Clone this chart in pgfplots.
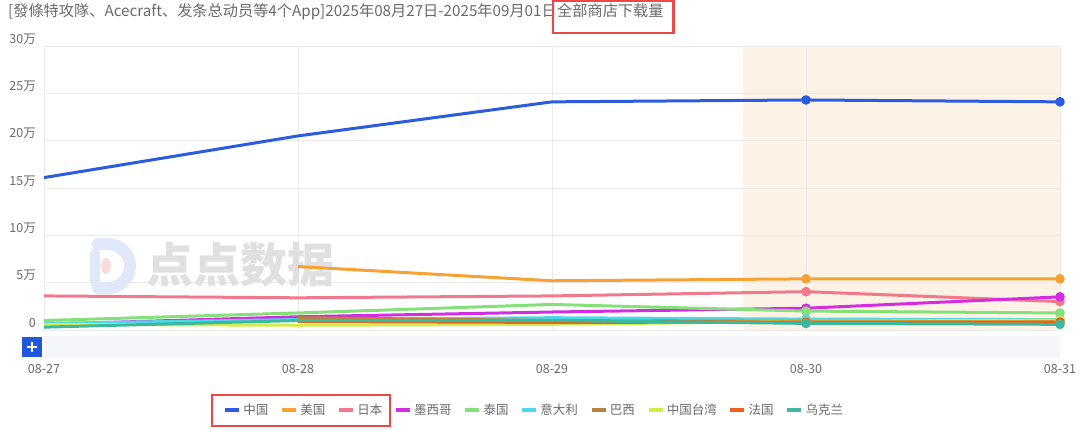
\documentclass[border=0pt]{standalone}
\usepackage{fontspec}
\setmainfont{Noto Sans CJK SC}
\usepackage{pgfplots}
\pgfplotsset{compat=1.18}
\definecolor{cCN}{RGB}{43,92,222}
\definecolor{cUS}{RGB}{245,162,51}
\definecolor{cJP}{RGB}{240,122,140}
\definecolor{cMX}{RGB}{212,45,225}
\definecolor{cTH}{RGB}{132,224,120}
\definecolor{cIT}{RGB}{77,216,232}
\definecolor{cBR}{RGB}{184,130,58}
\definecolor{cTW}{RGB}{212,236,74}
\definecolor{cFR}{RGB}{240,96,24}
\definecolor{cUA}{RGB}{61,184,160}
\definecolor{txtgray}{RGB}{105,105,105}
\definecolor{gridc}{RGB}{234,234,234}
\definecolor{hilite}{RGB}{252,243,230}
\definecolor{slider}{RGB}{245,246,250}
\definecolor{btn}{RGB}{34,88,222}
\definecolor{redbox}{RGB}{236,72,72}
\definecolor{wm}{RGB}{224,224,224}
\definecolor{wmblue}{RGB}{224,232,250}
\definecolor{wmpink}{RGB}{250,220,222}
\begin{document}
\begin{tikzpicture}[x=1pt,y=1pt]
% watermark
\draw[line width=12pt, wmblue, line cap=round] (98,185) -- (108,185) arc[start angle=90,end angle=-90,radius=22] -- (98,141);
\draw[line width=10pt, wmblue, line cap=round] (95,176) -- (95,147);
\fill[wmpink] (106,163) ellipse (5 and 8);
\node[font=\fontsize{47}{47}\selectfont\bfseries, text=wm, anchor=center] at (240,164) {点点数据};
\begin{axis}[
  at={(44pt,99pt)}, anchor=south west,
  scale only axis, width=1016pt, height=284pt,
  xmin=0, xmax=4, ymin=0, ymax=30,
  set layers,
  axis line style={draw=none},
  major tick length=0pt,
  grid=major,
  major grid style={gridc, line width=0.8pt},
  xtick={0,1,2,3,4},
  xticklabels={08-27,08-28,08-29,08-30,08-31},
  ytick={0,5,10,15,20,25,30},
  yticklabels={0,5万,10万,15万,20万,25万,30万},
  xticklabel style={anchor=center, yshift=-39pt, inner sep=0pt, text=txtgray, font=\fontsize{12.5}{14}\selectfont},
  yticklabel style={anchor=east, xshift=-8pt, yshift=7pt, inner sep=0pt, text=txtgray, font=\fontsize{12.5}{14}\selectfont},
  every axis plot/.append style={line width=3pt, line join=round},
  legend columns=10,
  legend style={draw=none, fill=none, at={(0.4828,-0.2817)}, anchor=center,
     inner sep=0pt, nodes={inner sep=2.5pt, text=txtgray}, font=\fontsize{12.5}{14}\selectfont,
     /tikz/every even column/.append style={column sep=9.4pt}},
  legend image code/.code={\draw[#1, line width=3.5pt, mark=none] (0pt,0pt) -- (14pt,0pt);},
]
\begin{pgfonlayer}{axis background}
\fill[hilite] (axis cs:2.75,0) rectangle (axis cs:4,30);
\end{pgfonlayer}
\addplot[cCN, mark=*, mark size=3.3pt, mark indices={4,5}] coordinates {(0,16.1) (1,20.5) (2,24.1) (3,24.3) (4,24.1)};
\addlegendentry{中国}
\addplot[cUS, mark=*, mark size=3.3pt, mark indices={3,4}] coordinates {(1,6.7) (2,5.2) (3,5.4) (4,5.4)};
\addlegendentry{美国}
\addplot[cJP, mark=*, mark size=3.3pt, mark indices={4,5}] coordinates {(0,3.6) (1,3.4) (2,3.6) (3,4.05) (4,3.0)};
\addlegendentry{日本}
\addplot[cMX, mark=*, mark size=3.3pt, mark indices={4,5}] coordinates {(0,0.6) (1,1.4) (2,1.9) (3,2.3) (4,3.5)};
\addlegendentry{墨西哥}
\addplot[cTH, mark=*, mark size=3.3pt, mark indices={4,5}] coordinates {(0,1.0) (1,1.8) (2,2.7) (3,2.0) (4,1.8)};
\addlegendentry{泰国}
\addplot[cIT, mark=*, mark size=3.3pt, mark indices={4,5}] coordinates {(0,0.7) (1,1.1) (2,1.3) (3,1.15) (4,1.1)};
\addlegendentry{意大利}
\addplot[cBR, mark=*, mark size=3.3pt, mark indices={3,4}] coordinates {(1,1.3) (2,1.0) (3,0.9) (4,0.8)};
\addlegendentry{巴西}
\addplot[cTW, mark=*, mark size=3.3pt, mark indices={4,5}] coordinates {(0,0.6) (1,0.5) (2,0.6) (3,0.9) (4,1.05)};
\addlegendentry{中国台湾}
\addplot[cFR, mark=*, mark size=3.3pt, mark indices={3,4}] coordinates {(1,0.9) (2,0.8) (3,0.85) (4,0.85)};
\addlegendentry{法国}
\addplot[cUA, mark=*, mark size=3.3pt, mark indices={4,5}] coordinates {(0,0.3) (1,1.0) (2,1.0) (3,0.7) (4,0.6)};
\addlegendentry{乌克兰}
\end{axis}
% data zoom slider
\fill[slider] (44,71) rectangle (1060,93);
\fill[btn] (22,72) rectangle (42,92);
\draw[white, line width=2pt] (27,82) -- (37,82) (32,77) -- (32,87);
% title
\node[anchor=west, inner sep=0pt, text=txtgray, font=\fontsize{15.2}{17}\selectfont] (t1) at (8,417) {[發條特攻隊、Acecraft、发条总动员等4个App]2025年08月27日-2025年09月01日};
\node[anchor=base west, inner sep=0pt, text=txtgray, font=\fontsize{15.2}{17}\selectfont] (t2) at (t1.base east) {全部商店下载量};
\path (0,396) coordinate (B1) (0,428) coordinate (B2);
\draw[redbox, line width=2.6pt] ([xshift=-4pt]t2.west |- B1) rectangle ([xshift=10pt]t2.east |- B2);
% legend box
\draw[redbox, line width=2.6pt] (212,3) rectangle (390,34);
\pgfresetboundingbox
\path[use as bounding box] (0,0) rectangle (1080,429);
\end{tikzpicture}
\end{document}
